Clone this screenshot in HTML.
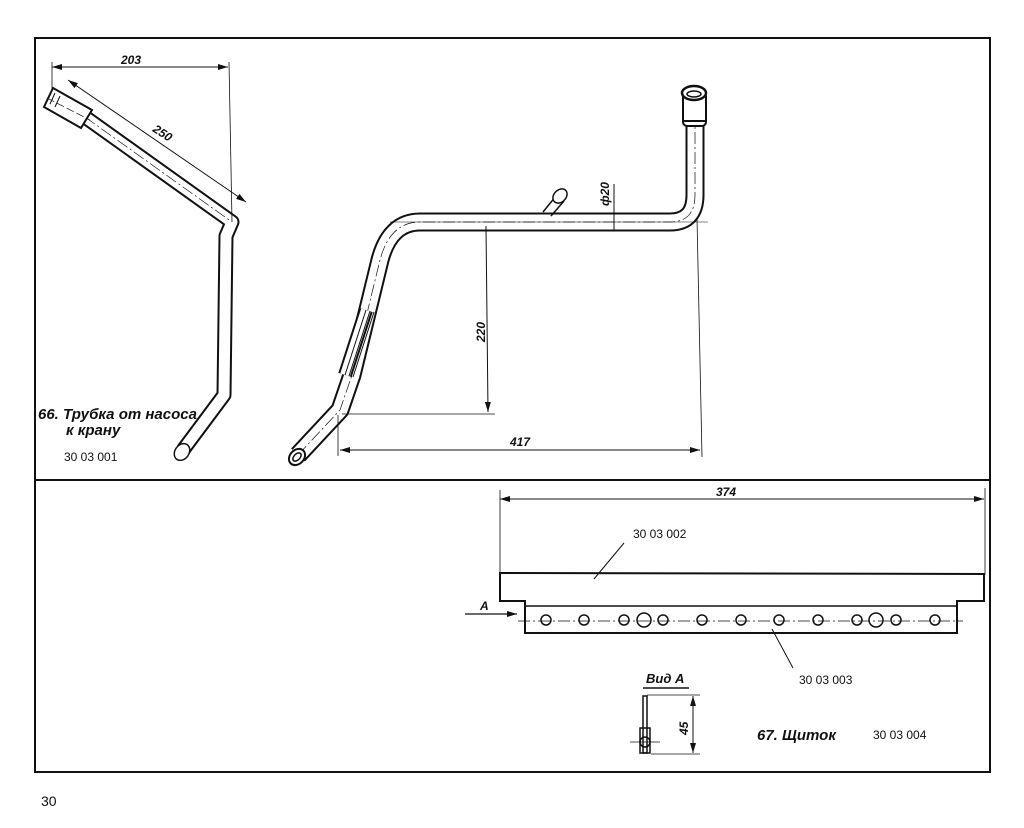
<!DOCTYPE html>
<html><head><meta charset="utf-8"><style>
html,body{margin:0;padding:0;background:#fff;}
svg{display:block}
text{font-family:"Liberation Sans",sans-serif;fill:#111}
.it{font-style:italic;font-weight:bold}
</style></head><body>
<svg width="1024" height="828" viewBox="0 0 1024 828" xmlns="http://www.w3.org/2000/svg">
<defs>
<marker id="ar" viewBox="0 0 10 6" refX="10" refY="3" markerWidth="10" markerHeight="6" orient="auto-start-reverse" markerUnits="userSpaceOnUse"><path d="M0,0 L10,3 L0,6 z" fill="#111"/></marker>
</defs>
<g fill="none" stroke="#111">
<rect x="35" y="38" width="955" height="734" stroke-width="2"/>
<line x1="35" y1="480" x2="990" y2="480" stroke-width="2"/>

<!-- LEFT TUBE -->
<path d="M85,117 L232,222 L226,236 L224,395 L183,450" stroke-width="15" stroke-linejoin="round"/>
<path d="M85,117 L232,222 L226,236 L224,395 L183,450" stroke="#fff" stroke-width="11" stroke-linejoin="round"/>
<line x1="85" y1="117" x2="232" y2="222" stroke-width="0.7" stroke-dasharray="12 3 2 3"/>
<!-- wide end -->
<path d="M53,88 L92,110 L81,128 L44,107 Z" stroke-width="2" fill="#fff"/>
<line x1="55" y1="93" x2="50" y2="104" stroke-width="1"/>
<line x1="60" y1="96" x2="55" y2="107" stroke-width="1"/>
<line x1="47" y1="98" x2="90" y2="120" stroke-width="0.7" stroke-dasharray="8 3"/>
<ellipse cx="182" cy="452" rx="7" ry="9" transform="rotate(35 182 452)" stroke-width="1.5" fill="#fff"/>
<!-- dims left -->
<line x1="52" y1="67" x2="228" y2="67" stroke-width="1" marker-start="url(#ar)" marker-end="url(#ar)"/>
<line x1="52" y1="62" x2="52" y2="90" stroke-width="0.8"/>
<line x1="229" y1="62" x2="232" y2="222" stroke-width="0.8"/>
<line x1="68" y1="80" x2="246" y2="202" stroke-width="1" marker-start="url(#ar)" marker-end="url(#ar)"/>

<!-- MIDDLE TUBE -->
<path d="M298,455 L340,410 L352,375 L380,260 Q390,222 420,222 L670,222 Q695,222 695,195 L695,125" stroke-width="19" stroke-linejoin="round"/>
<path d="M298,455 L340,410 L352,375 L380,260 Q390,222 420,222 L670,222 Q695,222 695,195 L695,125" stroke="#fff" stroke-width="15" stroke-linejoin="round"/>
<path d="M298,455 L340,410 L352,375 L380,260 Q390,222 420,222 L670,222 Q695,222 695,195 L695,125" stroke-width="0.7" stroke-dasharray="12 3 2 3"/>
<path d="M345,375 L366,310" stroke-width="14"/>
<path d="M345,375 L366,310" stroke="#fff" stroke-width="10"/>
<path d="M345,375 L366,310 M349,376 L370,311 M353,377 L374,312" stroke-width="1"/>
<path d="M543,212 L556,196 M551,216 L564,201" stroke-width="1.5"/>
<ellipse cx="560" cy="196" rx="6" ry="8" transform="rotate(45 560 196)" stroke-width="1.5" fill="#fff"/>
<rect x="683" y="92" width="23" height="34" rx="4" stroke-width="2" fill="#fff"/>
<ellipse cx="694" cy="93" rx="12" ry="7" stroke-width="2.5" fill="#fff"/>
<ellipse cx="694" cy="94" rx="7" ry="3" stroke-width="1.5"/>
<line x1="684" y1="121" x2="705" y2="121" stroke-width="2"/>
<ellipse cx="297" cy="457" rx="7" ry="9" transform="rotate(45 297 457)" stroke-width="2" fill="#fff"/>
<ellipse cx="297" cy="457" rx="3" ry="5" transform="rotate(45 297 457)" stroke-width="1.5"/>
<line x1="486" y1="226" x2="488" y2="412" stroke-width="1" marker-end="url(#ar)"/>
<line x1="342" y1="414" x2="495" y2="414" stroke-width="0.8"/>
<line x1="340" y1="450" x2="700" y2="450" stroke-width="1" marker-start="url(#ar)" marker-end="url(#ar)"/>
<line x1="338" y1="415" x2="338" y2="456" stroke-width="0.8"/>
<line x1="697" y1="218" x2="702" y2="457" stroke-width="0.8"/>
<line x1="614" y1="184" x2="614" y2="230" stroke-width="1"/>
<line x1="390" y1="222" x2="708" y2="222" stroke-width="0.6"/>

<!-- BOTTOM PANEL -->
<line x1="500" y1="499" x2="984" y2="499" stroke-width="1" marker-start="url(#ar)" marker-end="url(#ar)"/>
<line x1="500" y1="490" x2="500" y2="575" stroke-width="0.8"/>
<line x1="985" y1="488" x2="985" y2="575" stroke-width="0.8"/>
<path d="M500,573 L984,574 L984,601 L957,601 L957,633 L525,633 L525,601 L500,601 Z" stroke-width="2"/>
<line x1="525" y1="606" x2="957" y2="606" stroke-width="1.5"/>
<line x1="518" y1="621" x2="963" y2="621" stroke-width="0.8" stroke-dasharray="12 3 2 3"/>
<g stroke-width="1.5">
<circle cx="546" cy="620" r="5"/><circle cx="584" cy="620" r="5"/><circle cx="624" cy="620" r="5"/><circle cx="644" cy="620" r="7"/><circle cx="663" cy="620" r="5"/><circle cx="702" cy="620" r="5"/><circle cx="741" cy="620" r="5"/><circle cx="779" cy="620" r="5"/><circle cx="818" cy="620" r="5"/><circle cx="857" cy="620" r="5"/><circle cx="876" cy="620" r="7"/><circle cx="896" cy="620" r="5"/><circle cx="935" cy="620" r="5"/>
</g>
<line x1="624" y1="543" x2="594" y2="579" stroke-width="1"/>
<line x1="772" y1="629" x2="793" y2="668" stroke-width="1"/>
<line x1="465" y1="614" x2="517" y2="614" stroke-width="1.2" marker-end="url(#ar)"/>
<line x1="643" y1="688" x2="689" y2="688" stroke-width="1.5"/>
<rect x="643" y="696" width="4" height="57" stroke-width="1.5"/>
<rect x="640" y="728" width="10" height="25" stroke-width="1.5"/>
<circle cx="645" cy="742" r="5" stroke-width="1.5"/>
<line x1="630" y1="742" x2="660" y2="742" stroke-width="0.8"/>
<line x1="647" y1="695" x2="700" y2="695" stroke-width="0.8"/>
<line x1="651" y1="754" x2="700" y2="754" stroke-width="0.8"/>
<line x1="693" y1="696" x2="693" y2="753" stroke-width="1" marker-start="url(#ar)" marker-end="url(#ar)"/>
</g>

<text x="121" y="64" font-size="12" class="it">203</text>
<text x="0" y="0" font-size="12" class="it" transform="translate(152,131) rotate(33)">250</text>
<text x="38" y="419" font-size="15" class="it">66. Трубка от насоса</text>
<text x="66" y="435" font-size="15" class="it">к крану</text>
<text x="64" y="461" font-size="12">30 03 001</text>
<text x="0" y="0" font-size="12" class="it" transform="translate(485,342) rotate(-90)">220</text>
<text x="510" y="446" font-size="12" class="it">417</text>
<text x="0" y="0" font-size="12" class="it" transform="translate(609,206) rotate(-90)">ф20</text>
<text x="716" y="496" font-size="12" class="it">374</text>
<text x="633" y="538" font-size="12">30 03 002</text>
<text x="799" y="684" font-size="12">30 03 003</text>
<text x="480" y="610" font-size="12" class="it">A</text>
<text x="646" y="683" font-size="13" class="it">Вид А</text>
<text x="0" y="0" font-size="12" class="it" transform="translate(688,735) rotate(-90)">45</text>
<text x="757" y="740" font-size="15" class="it">67. Щиток</text>
<text x="873" y="739" font-size="12">30 03 004</text>
<text x="41" y="806" font-size="14">30</text>
</svg>
</body></html>
